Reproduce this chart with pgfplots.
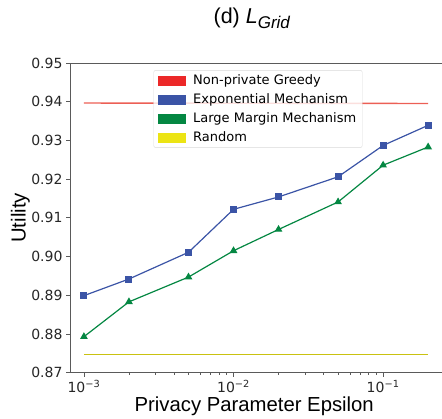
\documentclass[border=0pt]{standalone}
\usepackage{pgfplots}
\pgfplotsset{compat=1.18}
\usepackage{fontspec}
\setmainfont{DejaVu Sans}
\newfontfamily\arial{Liberation Sans}
\definecolor{myred}{RGB}{236,40,40}
\definecolor{redline}{RGB}{236,95,85}
\definecolor{myblue}{RGB}{59,84,166}
\definecolor{mygreen}{RGB}{4,135,66}
\definecolor{myyellow}{RGB}{236,228,20}
\definecolor{spine}{RGB}{90,90,90}
\begin{document}
\begin{tikzpicture}
\begin{axis}[
  xmode=log,
  scale only axis,
  width=376pt, height=309.7pt,
  xmin=8.07e-4, xmax=0.2633,
  ymin=0.87, ymax=0.95,
  ytick={0.87,0.88,0.89,0.90,0.91,0.92,0.93,0.94,0.95},
  yticklabel style={/pgf/number format/fixed,/pgf/number format/fixed zerofill,/pgf/number format/precision=2},
  /pgf/number format/assume math mode=true,
  xtick={0.001,0.01,0.1},
  xticklabels={10\textsuperscript{−3},10\textsuperscript{−2},10\textsuperscript{−1}},
  tick align=outside,
  xtick pos=bottom, ytick pos=left,
  major tick length=4pt, minor tick length=2.2pt,
  tick style={spine, line width=0.7pt},
  axis line style={spine, line width=0.9pt},
  tick label style={font=\fontsize{14}{16}\selectfont, text=black!85},
  xlabel={\arial Privacy Parameter Epsilon},
  ylabel={\arial Utility},
  xlabel style={font=\fontsize{20.3}{23}\selectfont, at={(axis description cs:0.49,-0.107)}, anchor=center},
  ylabel style={font=\fontsize{20.3}{23}\selectfont, at={(axis description cs:-0.132,0.5)}, anchor=center},
  title={\arial (d) \textit{L}\raisebox{-0.45ex}{\fontsize{17}{19}\selectfont\textit{Grid}}},
  title style={font=\fontsize{21.5}{24}\selectfont, at={(axis description cs:0.484,1.125)}, anchor=center},
  legend style={at={(0.5,0.977)}, anchor=north, draw=black!15, rounded corners=2pt,
    fill=white, fill opacity=0.8, text opacity=1, font=\fontsize{13}{15}\selectfont,
    row sep=3.6pt, inner xsep=4pt, inner ysep=2.5pt},
  legend cell align=left,
]
\coordinate (sw) at (rel axis cs:0,0);
\coordinate (ne) at (rel axis cs:1,1);
\addplot[draw=redline, line width=1.4pt, forget plot] coordinates {(0.001,0.93966) (0.2,0.93954)};
\addplot[draw=myblue, line width=1.2pt, mark=square*, mark size=2.9pt, mark options={fill=myblue, draw=myblue}, forget plot] coordinates {
(0.001,0.8899) (0.002,0.8942) (0.005,0.9011) (0.01,0.9122) (0.02,0.9154) (0.05,0.9206) (0.1,0.9287) (0.2,0.9339)};
\addplot[draw=mygreen, line width=1.2pt, mark=triangle*, mark size=3.3pt, mark options={fill=mygreen, draw=mygreen}, forget plot] coordinates {
(0.001,0.8793) (0.002,0.8883) (0.005,0.8947) (0.01,0.9015) (0.02,0.9070) (0.05,0.9141) (0.1,0.9236) (0.2,0.9283)};
\addplot[draw=myyellow!85!black, line width=1.1pt, forget plot] coordinates {(0.001,0.8746) (0.2,0.8746)};
\addlegendimage{legend image code/.code={\fill[myred, fill opacity=1, sharp corners] (0pt,-4.5pt) rectangle (27pt,4.5pt); \path (33pt,0pt);}}
\addlegendentry{Non-private Greedy}
\addlegendimage{legend image code/.code={\fill[myblue, fill opacity=1, sharp corners] (0pt,-4.5pt) rectangle (27pt,4.5pt); \path (33pt,0pt);}}
\addlegendentry{Exponential Mechanism}
\addlegendimage{legend image code/.code={\fill[mygreen, fill opacity=1, sharp corners] (0pt,-4.5pt) rectangle (27pt,4.5pt); \path (33pt,0pt);}}
\addlegendentry{Large Margin Mechanism}
\addlegendimage{legend image code/.code={\fill[myyellow, fill opacity=1, sharp corners] (0pt,-4.5pt) rectangle (27pt,4.5pt); \path (33pt,0pt);}}
\addlegendentry{Random}
\end{axis}
\pgfresetboundingbox
\path[use as bounding box] ([shift={(-70pt,-46.3pt)}]sw) rectangle ([shift={(-4pt,63pt)}]ne);
\end{tikzpicture}
\end{document}
